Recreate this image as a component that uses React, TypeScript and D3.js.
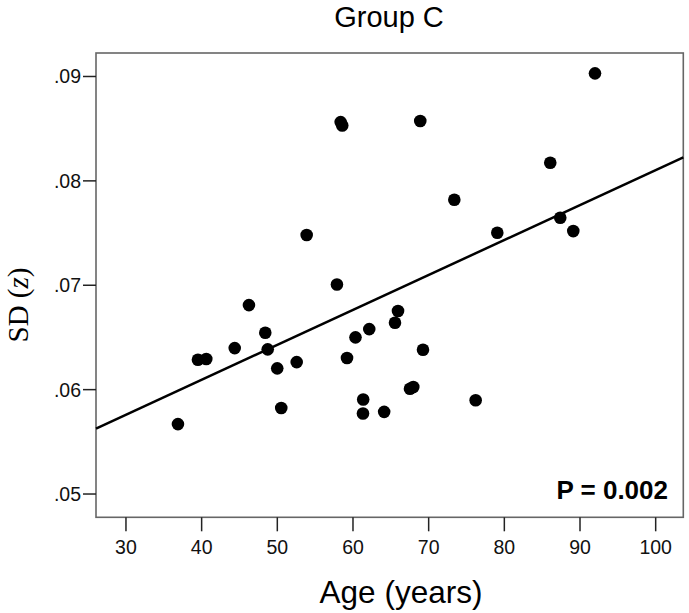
import React from "react";
import * as d3 from "d3";

const ages = [36.87, 39.51, 40.61, 44.37, 46.25, 48.41, 48.73, 49.99, 50.52, 52.56, 53.88, 57.88, 58.37, 58.58, 59.21, 60.33, 61.35, 61.32, 62.15, 64.12, 65.55, 65.95, 67.53, 67.97, 68.89, 69.25, 73.39, 76.21, 79.07, 86.07, 87.39, 89.11, 91.98];
const sds = [0.0567, 0.06286, 0.06293, 0.06398, 0.0681, 0.06545, 0.06386, 0.06204, 0.05824, 0.06264, 0.07481, 0.07007, 0.08563, 0.0853, 0.06303, 0.06501, 0.05905, 0.05771, 0.0658, 0.05787, 0.06641, 0.06753, 0.06009, 0.06025, 0.08573, 0.06382, 0.07819, 0.05898, 0.07503, 0.08173, 0.07647, 0.07519, 0.0903];
const fitAges = [26.04, 103.65];
const fitSds = [0.05627, 0.08225];
const xTicks = [30, 40, 50, 60, 70, 80, 90, 100];
const yTicks = [0.05, 0.06, 0.07, 0.08, 0.09];
const xDomain = [26.04, 103.65];
const yDomain = [0.04777, 0.09225];
const title = "Group C";
const xLabel = "Age (years)";
const pLabel = "P = 0.002";

const W = 689, H = 613;
const L = 96, R = 683.3, T = 53, B = 517.3;
const SANS = "'Liberation Sans', Arial, sans-serif";
const SERIF = "'Liberation Serif', 'Times New Roman', serif";

export default function App() {
  const x = d3.scaleLinear().domain(xDomain).range([L, R]);
  const y = d3.scaleLinear().domain(yDomain).range([B, T]);
  const line = d3.line<number>().x((_, i) => x(fitAges[i])).y((d) => y(d));
  const fmt = (v: number) => d3.format(".2f")(v).replace(/^0/, "");
  return (
    <svg width={W} height={H} style={{ position: "absolute", left: 0, top: 0, background: "#fff" }}>
      <rect x={0} y={0} width={W} height={H} fill="#fff" />
      <text x={389} y={27} textAnchor="middle" fontFamily={SANS} fontSize={29} fill="#000">{title}</text>
      <rect x={L} y={T} width={R - L} height={B - T} fill="none" stroke="#666" strokeWidth={1.6} />
      {yTicks.map((t) => (
        <g key={t}>
          <line x1={L - 13} x2={L} y1={y(t)} y2={y(t)} stroke="#222" strokeWidth={1.5} />
          <text x={L - 15} y={y(t) + 7} textAnchor="end" fontFamily={SANS} fontSize={19.5} fill="#111">{fmt(t)}</text>
        </g>
      ))}
      {xTicks.map((t) => (
        <g key={t}>
          <line x1={x(t)} x2={x(t)} y1={B} y2={B + 14} stroke="#222" strokeWidth={1.5} />
          <text x={x(t)} y={554} textAnchor="middle" fontFamily={SANS} fontSize={19.5} fill="#111">{t}</text>
        </g>
      ))}
      <path d={line(fitSds) || ""} fill="none" stroke="#000" strokeWidth={2.5} />
      {ages.map((a, i) => (
        <circle key={i} cx={x(a)} cy={y(sds[i])} r={6.3} fill="#000" />
      ))}
      <text x={668} y={499} textAnchor="end" fontFamily={SANS} fontWeight="bold" fontSize={26} fill="#000">{pLabel}</text>
      <text x={401} y={603} textAnchor="middle" fontFamily={SANS} fontSize={31.5} fill="#000">{xLabel}</text>
      <text transform="translate(28,305) rotate(-90)" textAnchor="middle" fontFamily={SERIF} fontSize={29} fill="#000">
        SD (<tspan fontStyle="italic">z</tspan>)
      </text>
    </svg>
  );
}
